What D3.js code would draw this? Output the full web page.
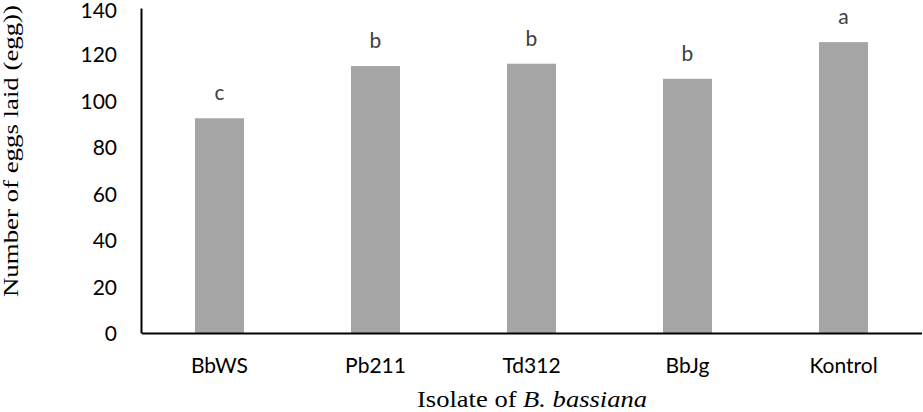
<!DOCTYPE html>
<html><head><meta charset="utf-8">
<script src="https://cdn.jsdelivr.net/npm/d3@7"></script>
<style>body{margin:0;background:#fff}svg{display:block}</style>
</head><body>
<svg id="c" width="923" height="412"></svg>
<script>
const categories = ["BbWS", "Pb211", "Td312", "BbJg", "Kontrol"];
const values = [92.5, 115, 116, 109.5, 125.3];
const letters = ["c", "b", "b", "b", "a"];
const yTicks = [0, 20, 40, 60, 80, 100, 120, 140];

const svg = d3.select("#c");
const x = d3.scaleBand().domain(categories).range([141.5, 921.5]).paddingInner(0.686).paddingOuter(0.343);
const y = d3.scaleLinear().domain([0, 140]).range([333, 8]);

const sans = "Lato, 'Open Sans', sans-serif";
const serif = "'Liberation Serif', 'Times New Roman', serif";

svg.selectAll("rect.bar").data(values).join("rect")
  .attr("class", "bar")
  .attr("x", (d, i) => x(categories[i]))
  .attr("width", x.bandwidth())
  .attr("y", d => y(d))
  .attr("height", d => y(0) - y(d))
  .attr("fill", "#a5a5a5");

svg.selectAll("text.lt").data(values).join("text")
  .attr("class", "lt")
  .attr("x", (d, i) => x(categories[i]) + x.bandwidth() / 2)
  .attr("y", d => y(d) - 18)
  .attr("text-anchor", "middle")
  .attr("font-family", sans).attr("font-size", 21).attr("fill", "#404040")
  .text((d, i) => letters[i]);

// y axis
const ya = svg.append("g").attr("transform", "translate(141,0)")
  .call(d3.axisLeft(y).tickValues(yTicks).tickSize(0).tickPadding(24));
ya.select(".domain").attr("stroke", "#000").attr("stroke-width", 2);
ya.selectAll("text").attr("font-family", sans).attr("font-size", 21).attr("fill", "#000")
  .attr("dy", d => d === 140 ? "0.44em" : "0.36em");

// x axis
const xa = svg.append("g").attr("transform", "translate(0,333)")
  .call(d3.axisBottom(x).tickSize(0).tickPadding(0));
xa.select(".domain").attr("stroke", "#000").attr("stroke-width", 2);
xa.selectAll("text").attr("font-family", sans).attr("font-size", 21).attr("fill", "#000")
  .attr("y", 40).attr("dy", 0);

// titles
svg.append("text")
  .attr("transform", "translate(18,151) rotate(-90)")
  .attr("text-anchor", "middle")
  .attr("font-family", serif)
  .attr("font-size", 20).attr("fill", "#000")
  .attr("textLength", 292).attr("lengthAdjust", "spacingAndGlyphs")
  .text("Number of eggs laid (egg))");

const xt = svg.append("text")
  .attr("x", 532).attr("y", 406.5)
  .attr("text-anchor", "middle")
  .attr("font-family", serif)
  .attr("font-size", 24).attr("fill", "#000")
  .attr("textLength", 230).attr("lengthAdjust", "spacingAndGlyphs");
xt.append("tspan").text("Isolate of ");
xt.append("tspan").attr("font-style", "italic").text("B. bassiana");
</script>
</body></html>
